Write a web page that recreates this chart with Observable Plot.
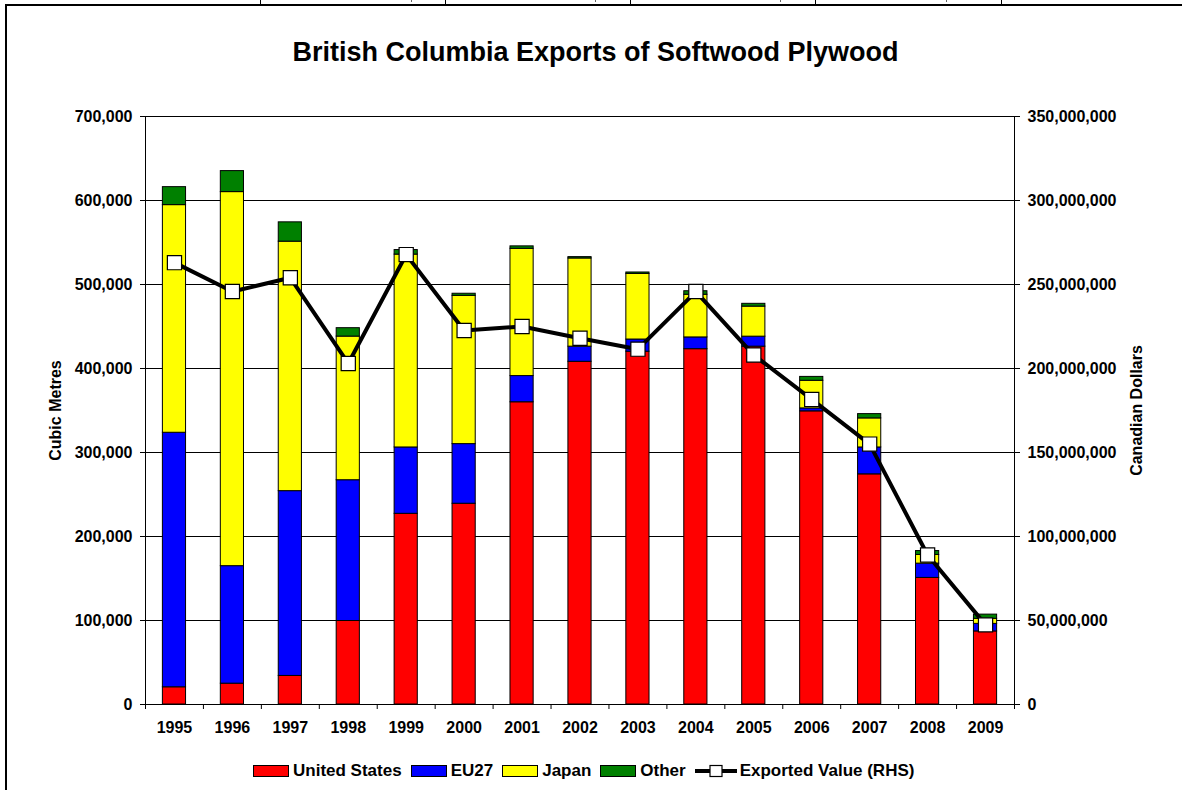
<!DOCTYPE html>
<html><head><meta charset="utf-8">
<script src="https://cdn.jsdelivr.net/npm/d3@7"></script>
<script src="https://cdn.jsdelivr.net/npm/@observablehq/plot@0.6"></script>
<style>
body{margin:0;background:#fff;font-family:Arial,"Liberation Sans",sans-serif;}
#wrap{position:relative;width:1182px;height:790px;overflow:hidden;background:#fff;}
.topline{position:absolute;left:5px;right:0;top:4px;height:2px;background:#000;}
.leftline{position:absolute;left:5px;top:4px;bottom:0;width:2px;background:#000;}
.cell{position:absolute;top:0;height:4px;width:1px;background:#000;}
.mini{position:absolute;top:0;height:2px;width:1px;background:#666;}
#title{position:absolute;left:9px;width:1173px;top:39px;text-align:center;font-weight:bold;font-size:27px;line-height:27px;color:#000;}
#chart{position:absolute;left:0;top:80px;}
#legend{position:absolute;left:253px;top:762px;display:flex;align-items:center;font-weight:bold;font-size:17px;line-height:17px;white-space:nowrap;color:#000;}
.item{display:flex;align-items:center;margin-right:9px;}
.sw{width:34px;height:10px;border:1px solid #000;margin-right:4px;}
</style></head>
<body>
<div id="wrap">
  <div class="topline"></div>
  <div class="leftline"></div>
  <div class="cell" style="left:260px"></div>
  <div class="cell" style="left:445px"></div>
  <div class="cell" style="left:630px"></div>
  <div class="cell" style="left:815px"></div>
  <div class="cell" style="left:1001px"></div>
  <div class="mini" style="left:411px"></div>
  <div class="mini" style="left:595px"></div>
  <div class="mini" style="left:780px"></div>
  <div class="mini" style="left:946px"></div>
  <div id="title">British Columbia Exports of Softwood Plywood</div>
  <div id="chart"></div>
  <div id="legend"></div>
</div>
<script>
// ---- data ----
const years = [1995,1996,1997,1998,1999,2000,2001,2002,2003,2004,2005,2006,2007,2008,2009];
const unitedStates = [20500,24800,34000,99400,227000,239000,359800,408000,420000,423000,426000,349000,274000,150700,87000];
const eu27 = [303000,139900,220000,167600,79000,71000,31200,18000,14500,14000,11900,3500,32000,17000,9000];
const japan = [271000,445300,297000,171000,229600,176500,151500,105000,78100,50800,35800,32900,34600,10300,6000];
const other = [21400,25000,23000,10000,5400,2500,2900,1600,1700,4200,3300,4600,5100,4700,5000];
const exportedValue = [263000000,245800000,254000000,203000000,267800000,222600000,225000000,218000000,211500000,245800000,208000000,181600000,155000000,89000000,47400000];
const seriesNames = ["United States","EU27","Japan","Other"];
const seriesColors = ["#FF0000","#0000FF","#FFFF00","#008000"];
const leftTicks = [0,100000,200000,300000,400000,500000,600000,700000];
const rhsPerLhs = 500; // 350,000,000 on the right equals 700,000 on the left
const lineName = "Exported Value (RHS)";

// ---- tables built from the arrays ----
const seriesArrays = [unitedStates, eu27, japan, other];
const rows = [];
years.forEach((yr, i) => {
  let base = 0;
  seriesArrays.forEach((arr, s) => {
    rows.push({year: yr, series: seriesNames[s], y1: base, y2: base + arr[i]});
    base += arr[i];
  });
});
const lineRows = years.map((yr, i) => ({year: yr, value: exportedValue[i] / rhsPerLhs}));
const boundaries = [years[0] - 0.5, ...years.map(y => y + 0.5)];
const fmt = d3.format(",");

const chart = Plot.plot({
  width: 1182, height: 665,
  marginTop: 36, marginBottom: 41, marginLeft: 145, marginRight: 168,
  style: {fontFamily: 'Arial,"Liberation Sans",sans-serif', fontSize: "16px", fontWeight: "bold", color: "#000", background: "transparent"},
  x: {type: "linear", domain: [years[0] - 0.5, years[years.length - 1] + 0.5]},
  y: {domain: [0, 700000]},
  color: {domain: seriesNames, range: seriesColors},
  marks: [
    Plot.ruleY(leftTicks, {stroke: "#000", strokeWidth: 1}),
    Plot.rect(rows, {x1: d => d.year - 0.2, x2: d => d.year + 0.2, y1: "y1", y2: "y2", fill: "series", stroke: "#000", strokeWidth: 1}),
    Plot.line(lineRows, {x: "year", y: "value", stroke: "#000", strokeWidth: 4}),
    Plot.dot(lineRows, {x: "year", y: "value", symbol: "square", r: 8, fill: "#fff", stroke: "#000", strokeWidth: 1.2}),
    Plot.frame({stroke: "#000"}),
    Plot.axisY({anchor: "left", ticks: leftTicks, tickSize: 5, tickPadding: 8, tickFormat: fmt, label: null}),
    Plot.axisY({anchor: "right", ticks: leftTicks, tickSize: 5, tickPadding: 8, tickFormat: d => fmt(d * rhsPerLhs), label: null}),
    Plot.axisX({ticks: boundaries, tickSize: 5, tickFormat: () => "", label: null}),
    Plot.axisX({ticks: years, tickSize: 0, tickPadding: 17, tickFormat: d => String(d), label: null}),
    Plot.text(["Cubic Metres"], {text: d => d, frameAnchor: "left", textAnchor: "middle", lineAnchor: "middle", dx: -90, rotate: -90, fontSize: 16, fontWeight: "bold"}),
    Plot.text(["Canadian Dollars"], {text: d => d, frameAnchor: "right", textAnchor: "middle", lineAnchor: "middle", dx: 122, rotate: -90, fontSize: 16, fontWeight: "bold"})
  ]
});
document.getElementById("chart").appendChild(chart);

// ---- legend ----
const legend = document.getElementById("legend");
seriesNames.forEach((name, i) => {
  const it = document.createElement("div");
  it.className = "item";
  const sw = document.createElement("div");
  sw.className = "sw";
  sw.style.background = seriesColors[i];
  it.appendChild(sw);
  it.appendChild(document.createTextNode(name));
  legend.appendChild(it);
});
const li = document.createElement("div");
li.className = "item";
li.innerHTML = '<svg width="42" height="14" style="margin-right:3px"><line x1="0" x2="42" y1="7" y2="7" stroke="#000" stroke-width="4"/><rect x="15" y="1.5" width="12" height="11" fill="#fff" stroke="#000" stroke-width="1.2"/></svg>';
li.appendChild(document.createTextNode(lineName));
legend.appendChild(li);
</script>
</body></html>
